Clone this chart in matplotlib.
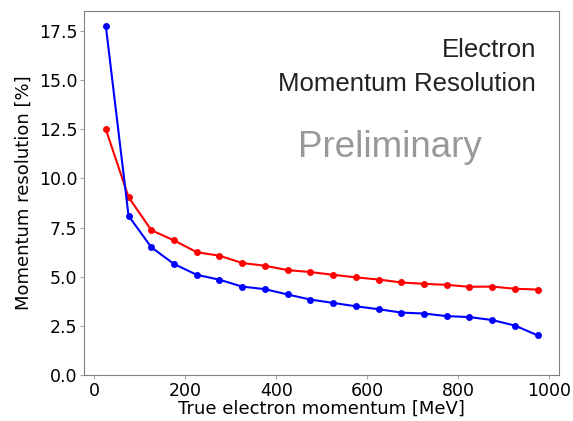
import matplotlib.pyplot as plt

# True momentum bin centres [MeV]
momentum = [25, 75, 125, 175, 225, 275, 325, 375, 425, 475,
            525, 575, 625, 675, 725, 775, 825, 875, 925, 975]

# Resolution [%] for the two samples
res_blue = [17.75, 8.1, 6.5, 5.65, 5.1, 4.85, 4.5, 4.37, 4.1, 3.84,
            3.67, 3.5, 3.35, 3.18, 3.13, 3.0, 2.95, 2.8, 2.52, 2.02]
res_red = [12.5, 9.05, 7.37, 6.85, 6.25, 6.07, 5.7, 5.56, 5.34, 5.24,
           5.1, 4.97, 4.86, 4.71, 4.64, 4.59, 4.49, 4.5, 4.39, 4.35]

fig = plt.figure(figsize=(5.73, 4.21), dpi=100)
ax = fig.add_axes([0.147, 0.109, 0.829, 0.866])

ax.plot(momentum, res_red, 'o-', color='red', lw=1.5, ms=4)
ax.plot(momentum, res_blue, 'o-', color='blue', lw=1.5, ms=4)

ax.set_ylim(bottom=0)
ax.set_xlabel('True electron momentum [MeV]', fontsize=13, labelpad=0)
ax.set_ylabel('Momentum resolution [%]', fontsize=13, labelpad=4)
ax.tick_params(labelsize=12.5, color='#aaaaaa', length=3, pad=2)
for s in ax.spines.values():
    s.set_color('gray')

ax.text(0.9515, 0.872, 'Electron', transform=ax.transAxes, ha='right',
        fontsize=18.5, family='Liberation Sans', color='#222222')
ax.text(0.9515, 0.778, 'Momentum Resolution', transform=ax.transAxes, ha='right',
        fontsize=18.5, family='Liberation Sans', color='#222222')
ax.text(0.644, 0.598, 'Preliminary', transform=ax.transAxes, ha='center',
        fontsize=26.5, family='Liberation Sans', color='#999999')

fig.savefig('out.png', dpi=100)
